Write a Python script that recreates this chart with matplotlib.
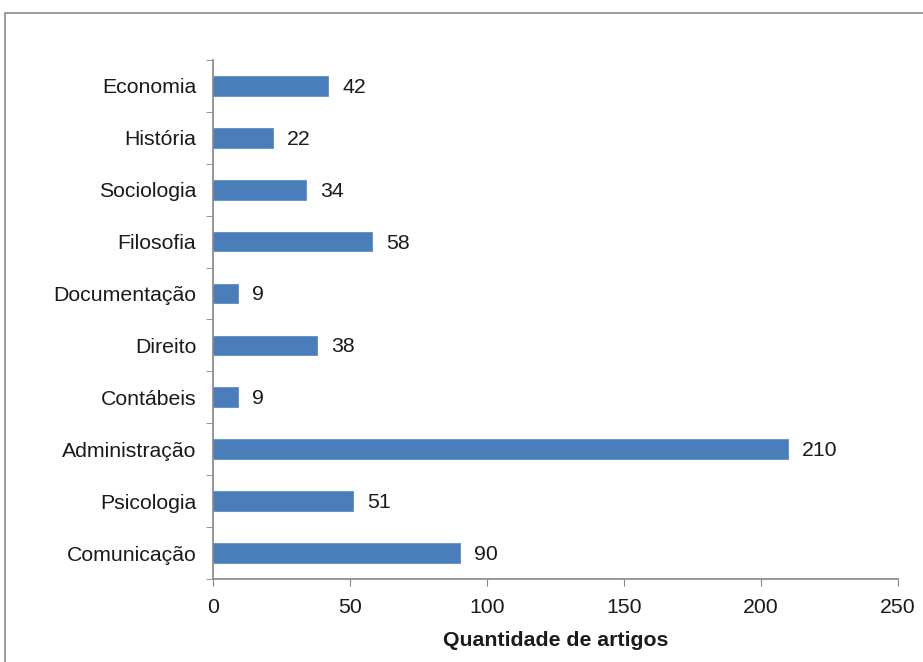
import matplotlib.pyplot as plt
from matplotlib.patches import Rectangle

areas = ['Comunicação', 'Psicologia', 'Administração', 'Contábeis', 'Direito',
         'Documentação', 'Filosofia', 'Sociologia', 'História', 'Economia']
artigos = [90, 51, 210, 9, 38, 9, 58, 34, 22, 42]
xticks = [0, 50, 100, 150, 200, 250]

plt.rcParams['font.family'] = ['Liberation Sans', 'DejaVu Sans']
fs = 15.3

fig = plt.figure(figsize=(9.23, 6.62), dpi=100)
ax = fig.add_axes([0.2308, 0.1254, 0.7422, 0.7840])

pos = list(range(len(areas)))
ax.barh(pos, artigos, height=0.38, color='#4A7EBB', edgecolor='#5B8CC8', linewidth=0.6)
for p, v in zip(pos, artigos):
    ax.annotate(str(v), (v, p), xytext=(10, -1), textcoords='offset points',
                ha='left', va='center', fontsize=fs, color='#1a1a1a')

ax.set_xlim(0, 250)
ax.set_ylim(-0.5, len(areas) - 0.5)
ax.set_xticks(xticks)
ax.set_xticklabels([str(t) for t in xticks], fontsize=fs, color='#1a1a1a')
ax.set_yticks(pos)
ax.set_yticklabels(areas, fontsize=fs, color='#1a1a1a')
ax.set_yticks([p - 0.5 for p in pos] + [len(areas) - 0.5], minor=True)
ax.tick_params(axis='y', which='major', length=0, pad=12)
ax.tick_params(axis='y', which='minor', length=5, color='#868686', direction='out')
ax.tick_params(axis='x', length=5, color='#868686', direction='out', pad=9)

for s in ['top', 'right']:
    ax.spines[s].set_visible(False)
for s in ['left', 'bottom']:
    ax.spines[s].set_color('#868686')
    ax.spines[s].set_linewidth(1.2)

ax.set_xlabel('Quantidade de artigos', fontsize=fs, fontweight='bold',
              color='#1a1a1a', labelpad=10)

# frame around the chart area
fig.patches.append(Rectangle((5 / 923, -0.01), 1.0, 1.01 - 13 / 662,
                             transform=fig.transFigure, fill=False,
                             edgecolor='#8a8a8a', linewidth=1.2))

fig.savefig('out.png', dpi=100, facecolor='white')
